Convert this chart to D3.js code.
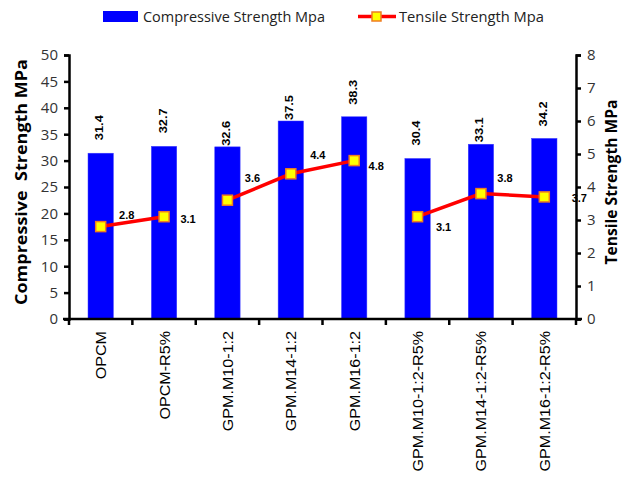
<!DOCTYPE html>
<html>
<head>
<meta charset="utf-8">
<script src="https://cdn.jsdelivr.net/npm/d3@7"></script>
<style>
  body { margin: 0; background: #fff; }
</style>
</head>
<body>
<div id="chart"></div>
<script>
// Chart data
var categories = ["OPCM", "OPCM-R5%", "GPM.M10-1:2", "GPM.M14-1:2", "GPM.M16-1:2",
  "GPM.M10-1:2-R5%", "GPM.M14-1:2-R5%", "GPM.M16-1:2-R5%"];
var compressive = [31.4, 32.7, 32.6, 37.5, 38.3, 30.4, 33.1, 34.2];
var tensile = [2.8, 3.1, 3.6, 4.4, 4.8, 3.1, 3.8, 3.7];
// line is drawn in separate groups (indices)
var lineGroups = [[0, 1], [2, 3, 4], [5, 6, 7]];
var leftTicks = [0, 5, 10, 15, 20, 25, 30, 35, 40, 45, 50];
var rightTicks = [0, 1, 2, 3, 4, 5, 6, 7, 8];

// label placement: gap above bar for value labels, (dx, dy) from marker for tensile labels
var barLabelGap = [13, 13, 1, 1, 12, 13, 2, 12];
var tensileLabelPos = [[26, -12], [24, 2], [25, -22], [27, -19], [22, 5], [26, 10], [24, -16], [35, 1]];

var width = 635, height = 477;
var margin = { top: 55, right: 59, bottom: 158, left: 69 };
var plotW = width - margin.left - margin.right;
var plotH = height - margin.top - margin.bottom;

var svg = d3.select("#chart")
  .append("svg")
  .attr("width", width)
  .attr("height", height);

var g = svg.append("g")
  .attr("transform", "translate(" + margin.left + "," + margin.top + ")");

var x = d3.scaleBand()
  .domain(categories)
  .range([0, plotW])
  .paddingInner(0.6)
  .paddingOuter(0.3);

var xEdge = d3.scaleBand()
  .domain(categories)
  .range([0, plotW]);

var yLeft = d3.scaleLinear().domain([0, 50]).range([plotH, 0]);
var yRight = d3.scaleLinear().domain([0, 8]).range([plotH, 0]);

// Bars
g.selectAll("rect.bar")
  .data(compressive)
  .enter().append("rect")
  .attr("class", "bar")
  .attr("x", function(d, i) { return x(categories[i]); })
  .attr("y", function(d) { return yLeft(d); })
  .attr("width", x.bandwidth())
  .attr("height", function(d) { return plotH - yLeft(d); })
  .attr("fill", "#0000ff")
  .attr("stroke", "#3b3bff")
  .attr("stroke-width", 0.5);

// Bar value labels (rotated)
g.selectAll("text.barlabel")
  .data(compressive)
  .enter().append("text")
  .attr("class", "barlabel")
  .attr("transform", function(d, i) {
    var cx = x(categories[i]) + x.bandwidth() / 2 + 2.5;
    return "translate(" + cx + "," + (yLeft(d) - barLabelGap[i]) + ") rotate(-90)";
  })
  .attr("text-anchor", "start")
  .attr("textLength", 25)
  .attr("lengthAdjust", "spacingAndGlyphs")
  .style("font-family", "'Liberation Sans', Arial, sans-serif")
  .style("font-size", "10px")
  .style("font-weight", "bold")
  .text(function(d) { return d.toFixed(1); });

// Axes
var leftAxis = g.append("g")
  .call(d3.axisLeft(yLeft).tickValues(leftTicks).tickSize(5).tickPadding(6));
var rightAxis = g.append("g")
  .attr("transform", "translate(" + plotW + ",0)")
  .call(d3.axisRight(yRight).tickValues(rightTicks).tickSize(5).tickPadding(6));

[leftAxis, rightAxis].forEach(function(ax) {
  ax.select(".domain").attr("stroke", "#000").attr("stroke-width", 2.5);
  ax.selectAll(".tick line").attr("stroke", "#000").attr("stroke-width", 2.5);
  ax.selectAll(".tick text")
    .style("font-family", "'Open Sans', 'Liberation Sans', sans-serif")
    .style("font-size", "15px")
    .attr("fill", "#333");
});

// X axis line and boundary ticks
g.append("line")
  .attr("x1", -6).attr("x2", plotW + 6)
  .attr("y1", plotH).attr("y2", plotH)
  .attr("stroke", "#000").attr("stroke-width", 2.5);

var edges = categories.map(function(c) { return xEdge(c); }).concat([plotW]);
g.selectAll("line.xtick")
  .data(edges)
  .enter().append("line")
  .attr("x1", function(d) { return d; })
  .attr("x2", function(d) { return d; })
  .attr("y1", plotH)
  .attr("y2", plotH + 6)
  .attr("stroke", "#000")
  .attr("stroke-width", 2.5);

// X labels (stretched a little along their length, like the original)
g.selectAll("text.xlabel")
  .data(categories)
  .enter().append("text")
  .attr("class", "xlabel")
  .attr("transform", function(d) {
    var cx = xEdge(d) + xEdge.bandwidth() / 2 + 5.5;
    return "translate(" + cx + "," + (plotH + 12) + ") rotate(-90)";
  })
  .attr("text-anchor", "end")
  .style("font-family", "'Liberation Sans', Arial, sans-serif")
  .style("font-size", "14px")
  .text(function(d) { return d; })
  .each(function() {
    var len = this.getComputedTextLength();
    d3.select(this).attr("textLength", len * 1.15).attr("lengthAdjust", "spacingAndGlyphs");
  });

// Tensile line
var line = d3.line()
  .x(function(i) { return xEdge(categories[i]) + xEdge.bandwidth() / 2; })
  .y(function(i) { return yRight(tensile[i]); });

g.selectAll("path.tline")
  .data(lineGroups)
  .enter().append("path")
  .attr("class", "tline")
  .attr("d", line)
  .attr("fill", "none")
  .attr("stroke", "#ff0000")
  .attr("stroke-width", 3.5);

g.selectAll("rect.marker")
  .data(tensile)
  .enter().append("rect")
  .attr("class", "marker")
  .attr("x", function(d, i) { return xEdge(categories[i]) + xEdge.bandwidth() / 2 - 5; })
  .attr("y", function(d) { return yRight(d) - 5; })
  .attr("width", 10)
  .attr("height", 10)
  .attr("fill", "#ffff00")
  .attr("stroke", "#f07c20")
  .attr("stroke-width", 1.5);

g.selectAll("text.tlabel")
  .data(tensile)
  .enter().append("text")
  .attr("class", "tlabel")
  .attr("x", function(d, i) { return xEdge(categories[i]) + xEdge.bandwidth() / 2 + tensileLabelPos[i][0]; })
  .attr("y", function(d, i) { return yRight(d) + tensileLabelPos[i][1] + 4; })
  .attr("text-anchor", "middle")
  .style("font-family", "'Liberation Sans', Arial, sans-serif")
  .style("font-size", "11px")
  .style("font-weight", "bold")
  .text(function(d) { return d.toFixed(1); });

// Axis titles
svg.append("text")
  .attr("transform", "translate(27," + 182 + ") rotate(-90)")
  .attr("text-anchor", "middle")
  .attr("textLength", 246)
  .attr("lengthAdjust", "spacingAndGlyphs")
  .style("font-family", "'Open Sans', 'Liberation Sans', sans-serif")
  .style("font-size", "16px")
  .style("font-weight", "bold")
  .style("white-space", "pre")
  .text("Compressive  Strength MPa");

svg.append("text")
  .attr("transform", "translate(617," + 182 + ") rotate(-90)")
  .attr("text-anchor", "middle")
  .attr("textLength", 165)
  .attr("lengthAdjust", "spacingAndGlyphs")
  .style("font-family", "'Open Sans', 'Liberation Sans', sans-serif")
  .style("font-size", "16px")
  .style("font-weight", "bold")
  .text("Tensile Strength MPa");

// Legend
var legend = svg.append("g");
legend.append("rect")
  .attr("x", 103).attr("y", 11).attr("width", 35).attr("height", 11)
  .attr("fill", "#0000ff");
legend.append("text")
  .attr("x", 143).attr("y", 22)
  .attr("textLength", 182)
  .attr("lengthAdjust", "spacingAndGlyphs")
  .style("font-family", "'Open Sans', 'Liberation Sans', sans-serif")
  .style("font-size", "15px")
  .attr("fill", "#222")
  .text("Compressive Strength Mpa");
legend.append("line")
  .attr("x1", 358).attr("x2", 396).attr("y1", 16.5).attr("y2", 16.5)
  .attr("stroke", "#ff0000").attr("stroke-width", 3.5);
legend.append("rect")
  .attr("x", 372).attr("y", 12).attr("width", 9).attr("height", 9)
  .attr("fill", "#ffff00").attr("stroke", "#f07c20").attr("stroke-width", 1.5);
legend.append("text")
  .attr("x", 399).attr("y", 22)
  .attr("textLength", 145)
  .attr("lengthAdjust", "spacingAndGlyphs")
  .style("font-family", "'Open Sans', 'Liberation Sans', sans-serif")
  .style("font-size", "15px")
  .attr("fill", "#222")
  .text("Tensile Strength Mpa");
</script>
</body>
</html>
